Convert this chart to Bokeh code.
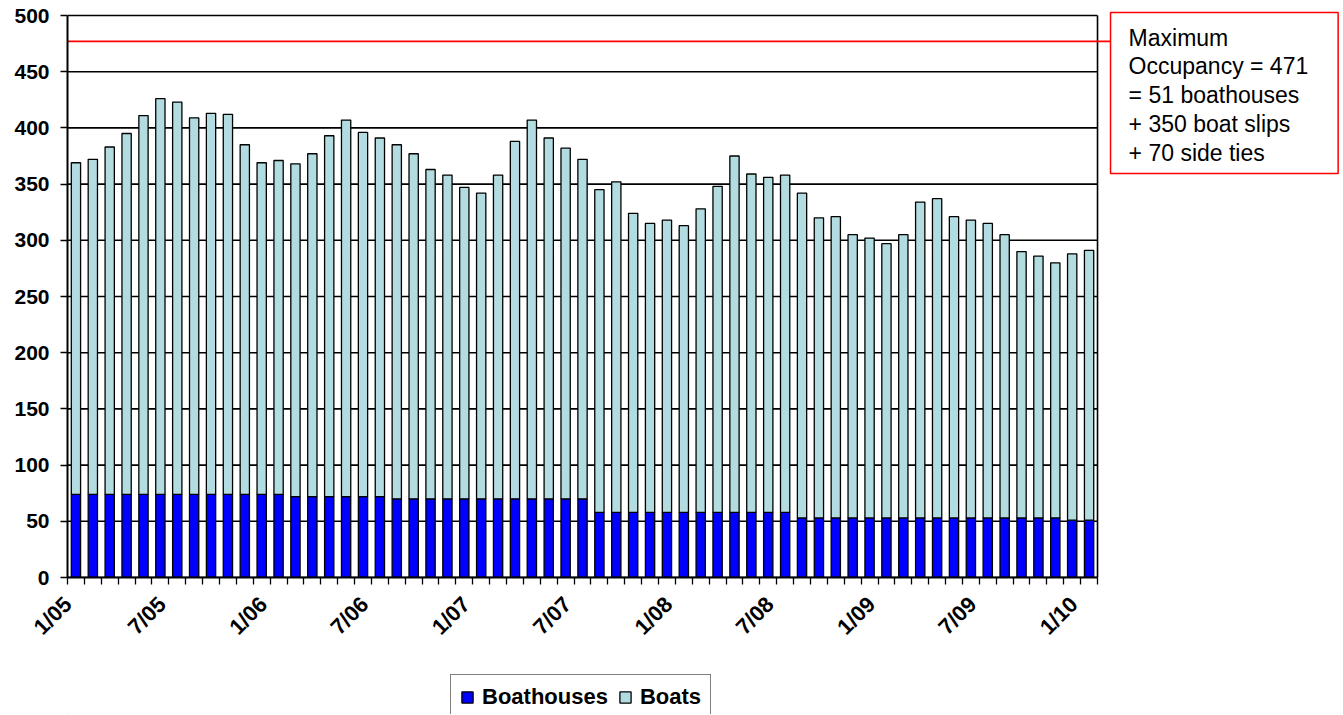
import math
from bokeh.plotting import figure
from bokeh.layouts import column
from bokeh.models import Range1d, FixedTicker, Legend, LegendItem, ColumnDataSource
from bokeh.embed import file_html
from bokeh.resources import INLINE
from bokeh.core.properties import value

# ---- data ----
tick_labels = ["1/05", "7/05", "1/06", "7/06", "1/07", "7/07",
               "1/08", "7/08", "1/09", "7/09", "1/10"]
label_every = 6

boathouses = [74, 74, 74, 74, 74, 74, 74, 74, 74, 74, 74, 74, 74,
              72, 72, 72, 72, 72, 72,
              70, 70, 70, 70, 70, 70, 70, 70, 70, 70, 70, 70,
              58, 58, 58, 58, 58, 58, 58, 58, 58, 58, 58, 58,
              53, 53, 53, 53, 53, 53, 53, 53, 53, 53, 53, 53, 53, 53, 53, 53,
              51, 51]

boats = [295, 298, 309, 321, 337, 352, 349, 335, 339, 338, 311, 295, 297,
         296, 305, 321, 335, 324, 319,
         315, 307, 293, 288, 277, 272, 288, 318, 337, 321, 312, 302,
         287, 294, 266, 257, 260, 255, 270, 290, 317, 301, 298, 300,
         289, 267, 268, 252, 249, 244, 252, 281, 284, 268, 265, 262, 252, 237, 233, 227,
         237, 240]

y_ticks = [0, 50, 100, 150, 200, 250, 300, 350, 400, 450, 500]
max_line_level = 477
note_lines = ["Maximum", "Occupancy = 471", "= 51 boathouses",
              "+ 350 boat slips", "+ 70 side ties"]
series_names = ["Boathouses", "Boats"]
series_colors = ["#0000FF", "#B2DCE0"]

# ---- chart ----
n = len(boats)
xs = [i + 0.5 for i in range(n)]
FONT = "Liberation Sans"

p = figure(frame_width=1273, frame_height=567,
           min_border_left=67, min_border_right=2, min_border_top=10, min_border_bottom=93,
           x_range=Range1d(0, 75.39), y_range=Range1d(0, 504.45),
           output_backend="svg", toolbar_location=None)
p.outline_line_color = None
p.grid.visible = False
p.background_fill_color = "white"
p.border_fill_color = "white"

# gridlines and right border of the plot area
p.segment(x0=[0] * len(y_ticks), y0=y_ticks, x1=[n] * len(y_ticks), y1=y_ticks,
          line_color="black", line_width=1.6)
p.segment(x0=[n], y0=[0], x1=[n], y1=[y_ticks[-1]], line_color="black", line_width=1.6)

# stacked bars
src = ColumnDataSource(dict(x=xs, boathouses=boathouses, boats=boats))
rs = p.vbar_stack(["boathouses", "boats"], x="x", width=0.55, source=src,
                  fill_color=series_colors, line_color="black", line_width=1.3)

# maximum occupancy line and note box
box_left, box_right, box_bottom, box_top = 61.77, 75.25, 359.4, 502.7
p.segment(x0=[0], y0=[max_line_level], x1=[box_left], y1=[max_line_level],
          line_color="red", line_width=1.6)
p.quad(left=[box_left], right=[box_right], bottom=[box_bottom], top=[box_top],
       fill_color="white", line_color="red", line_width=1.5)
p.text(x=[62.84] * len(note_lines), y=[480.4 - i * 25.6 for i in range(len(note_lines))],
       text=note_lines, text_font=value(FONT), text_font_size="23px",
       text_baseline="middle", text_align="left", text_color="black")

# x axis: boundary tick marks (minor), rotated labels (major, no mark)
label_shift = 0.9   # rotated labels sit a little left of the bar centre, as in Excel
label_pos = [max(xs[i] - label_shift, 0.02) for i in range(0, n, label_every)]
xa = p.xaxis[0]
xa.ticker = FixedTicker(ticks=label_pos, minor_ticks=list(range(n + 1)))
xa.major_label_overrides = {pos: lab for pos, lab in zip(label_pos, tick_labels)}
xa.bounds = (0, n)
xa.axis_line_color = "black"
xa.axis_line_width = 2
xa.major_tick_line_color = None
xa.minor_tick_line_color = "black"
xa.minor_tick_line_width = 1.3
xa.minor_tick_out = 7
xa.minor_tick_in = 0
xa.major_label_orientation = math.pi / 4
xa.major_label_standoff = 16
xa.major_label_text_font = FONT
xa.major_label_text_font_style = "bold"
xa.major_label_text_font_size = "22px"
xa.major_label_text_color = "black"

# y axis
ya = p.yaxis[0]
ya.ticker = FixedTicker(ticks=y_ticks)
ya.bounds = (0, y_ticks[-1])
ya.axis_line_color = "black"
ya.axis_line_width = 2
ya.major_tick_line_color = "black"
ya.major_tick_line_width = 1.5
ya.major_tick_out = 7
ya.major_tick_in = 0
ya.minor_tick_line_color = None
ya.major_label_standoff = 11
ya.major_label_text_font = FONT
ya.major_label_text_font_style = "bold"
ya.major_label_text_font_size = "21px"
ya.major_label_text_color = "black"

# ---- legend strip below the chart ----
lg = figure(width=1342, height=44, min_border=0,
            x_range=Range1d(0, 1), y_range=Range1d(0, 1),
            x_axis_type=None, y_axis_type=None,
            output_backend="svg", toolbar_location=None)
lg.outline_line_color = None
lg.grid.visible = False
hidden = ColumnDataSource(dict(x=[-10], top=[-10]))   # off-screen, only for legend swatches
lrs = [lg.vbar(x="x", top="top", width=0.1, source=hidden,
               fill_color=c, line_color="black", line_width=1.3) for c in series_colors]
legend = Legend(items=[LegendItem(label=nm, renderers=[r]) for nm, r in zip(series_names, lrs)],
                orientation="horizontal", location=(383, -6),
                border_line_color="black", border_line_width=1.2,
                background_fill_color="white", background_fill_alpha=1,
                label_text_font=FONT, label_text_font_style="bold",
                label_text_font_size="22px", label_text_color="black",
                glyph_width=14, glyph_height=14, label_standoff=8,
                spacing=10, padding=9, margin=0)
lg.add_layout(legend)

layout = column(p, lg, spacing=0)
open("out.html", "w").write(file_html(layout, INLINE))
